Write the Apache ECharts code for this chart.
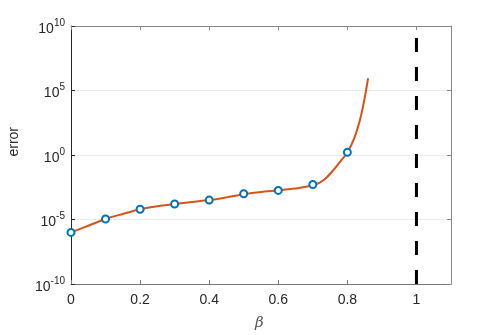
<!DOCTYPE html>
<html><head><meta charset="utf-8">
<script src="https://cdn.jsdelivr.net/npm/echarts@6/dist/echarts.min.js"></script>
<style>html,body{margin:0;padding:0;background:#fff}#c{width:498px;height:335px}</style>
</head><body><div id="c"></div>
<script>
// Sample points (markers)
const betaPts = [0, 0.1, 0.2, 0.3, 0.4, 0.5, 0.6, 0.7, 0.8];
const errorPts = [1e-6, 1.1e-5, 6.2e-5, 1.6e-4, 3.2e-4, 1e-3, 1.8e-3, 5.2e-3, 1.6];
// Fitted curve
const betaCurve = [0, 0.05, 0.1, 0.15, 0.2, 0.25, 0.3, 0.35, 0.4, 0.45, 0.5, 0.55, 0.6, 0.62, 0.64, 0.66, 0.68, 0.7, 0.72, 0.74, 0.76, 0.78, 0.8, 0.81, 0.82, 0.83, 0.84, 0.85, 0.86];
const errorCurve = [1e-6, 3.3e-6, 1.1e-5, 2.7e-5, 6.2e-5, 1.05e-4, 1.6e-4, 2.3e-4, 3.2e-4, 5.2e-4, 9e-4, 1.35e-3, 1.8e-3, 2.1e-3, 2.4e-3, 2.8e-3, 3.4e-3, 4.5e-3, 7.1e-3, 1.8e-2, 7e-2, 0.32, 1.58, 5, 20, 126, 1260, 2.5e4, 8.9e5];
// Vertical limit line
const limitBeta = 1;
const xTicks = [0, 0.2, 0.4, 0.6, 0.8, 1];

const font = 'Liberation Sans, Arial, Helvetica, sans-serif';
const txt = '#262626';
const chart = echarts.init(document.getElementById('c'), null, {renderer: 'canvas'});
const supLabel = v => {
  const e = Math.round(Math.log10(v));
  return '{b|10}{s|' + e + '}';
};
const opt = {
  animation: false,
  grid: {left: 71, top: 26, right: 47, bottom: 51, containLabel: false},
  xAxis: [{
    type: 'value', min: 0, max: 1.1, interval: 0.2,
    axisLine: {show: true, onZero: false, lineStyle: {color: '#777', width: 1}},
    axisTick: {inside: true, length: 4, lineStyle: {color: '#777'}},
    axisLabel: {color: txt, fontFamily: font, fontSize: 14, margin: 9, showMaxLabel: false,
      formatter: v => xTicks.some(t => Math.abs(t - v) < 1e-9) ? String(+v.toFixed(1)) : ''},
    splitLine: {show: false}
  }, {
    type: 'value', min: 0, max: 1.1, interval: 0.2, position: 'top',
    axisLine: {show: true, onZero: false, lineStyle: {color: '#888', width: 1}},
    axisTick: {inside: true, length: 4, lineStyle: {color: '#888'}},
    axisLabel: {show: false}, splitLine: {show: false}
  }],
  yAxis: [{
    type: 'log', logBase: 10, min: 1e-10, max: 1e10, interval: 5,
    axisLine: {show: true, onZero: false, lineStyle: {color: '#262626', width: 1}},
    axisTick: {inside: true, length: 4, lineStyle: {color: '#262626'}},
    axisLabel: {color: txt, fontFamily: font, margin: 6, formatter: supLabel,
      rich: {
        b: {fontSize: 14, fontFamily: font, color: txt, verticalAlign: 'bottom', lineHeight: 14, padding: [0, 0, -3, 0]},
        s: {fontSize: 10, fontFamily: font, color: txt, verticalAlign: 'bottom', lineHeight: 14, padding: [0, 0, 5, 0]}
      }},
    splitLine: {show: true, lineStyle: {color: '#ebebeb', width: 1}}
  }, {
    type: 'log', logBase: 10, min: 1e-10, max: 1e10, interval: 5, position: 'right',
    axisLine: {show: true, onZero: false, lineStyle: {color: '#888', width: 1}},
    axisTick: {inside: true, length: 4, lineStyle: {color: '#888'}},
    axisLabel: {show: false}, splitLine: {show: false}
  }],
  series: [{
    type: 'line', data: [[limitBeta, 1e-10], [limitBeta, 1e10]],
    showSymbol: false, symbol: 'none',
    lineStyle: {color: '#000', width: 3, type: [14, 15]}, z: 2
  }, {
    type: 'line', data: betaCurve.map((b, i) => [b, errorCurve[i]]),
    smooth: 0.3, showSymbol: false, symbol: 'none',
    lineStyle: {color: '#D95319', width: 2}, z: 3
  }, {
    type: 'scatter', data: betaPts.map((b, i) => [b, errorPts[i]]),
    symbol: 'circle', symbolSize: 7,
    itemStyle: {color: '#fff', borderColor: '#0072BD', borderWidth: 2, opacity: 1}, z: 4
  }],
  graphic: [{
    type: 'text', left: 7, top: 127, rotation: Math.PI / 2,
    style: {text: 'error', font: '14px ' + font, fill: txt}
  }, {
    type: 'text', left: 255, top: 316,
    style: {text: 'β', font: 'italic 15px "DejaVu Serif", serif', fill: '#555'}
  }]
};
chart.setOption(opt);
</script></body></html>
